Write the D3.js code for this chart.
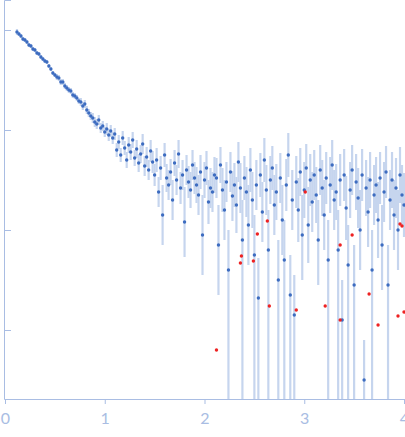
<!DOCTYPE html>
<html><head><meta charset="utf-8">
<script src="https://cdn.jsdelivr.net/npm/d3@7"></script>
<style>body{margin:0;background:#fff}</style></head>
<body><svg id="c"></svg>
<script>
// q values (1/nm), step 0.02 from 0.12
const qStart = 0.12, qStep = 0.02;
// log10 intensity
const logI = [
 -0.02,-0.04,-0.06,-0.09,-0.10,-0.12,-0.15,-0.16,-0.19,-0.20,
 -0.23,-0.24,-0.27,-0.29,-0.31,-0.32,-0.36,-0.39,-0.43,-0.45,
 -0.47,-0.48,-0.52,-0.52,-0.56,-0.58,-0.60,-0.61,-0.65,-0.66,
 -0.68,-0.71,-0.72,-0.76,-0.74,-0.80,-0.83,-0.86,-0.88,-0.92,
 -0.94,-0.90,-0.98,-0.96,-1.02,-0.99,-1.05,-1.01,-1.08,-1.04,
 -1.20,-1.12,-1.25,-1.08,-1.18,-1.30,-1.15,-1.22,-1.10,-1.28,
 -1.19,-1.33,-1.24,-1.14,-1.36,-1.27,-1.40,-1.21,-1.32,-1.45,
 -1.30,-1.62,-1.38,-1.85,-1.25,-1.48,-1.55,-1.42,-1.70,-1.33,
 -1.50,-1.24,-1.58,-1.45,-1.92,-1.40,-1.52,-1.60,-1.35,-1.48,
 -1.55,-1.65,-1.42,-2.05,-1.50,-1.38,-1.72,-1.58,-1.62,-1.45,
 -1.48,-2.15,-1.35,-1.60,-1.80,-1.52,-2.40,-1.42,-1.66,-1.55,
 -1.75,-1.32,-1.58,-2.10,-1.48,-1.62,-1.95,-1.40,-1.70,-2.25,
 -1.55,-2.68,-1.45,-1.82,-1.30,-1.60,-2.20,-1.50,-1.38,-1.75,
 -1.62,-2.50,-1.48,-1.90,-2.30,-1.55,-1.25,-2.65,-1.70,-2.85,
 -1.52,-1.80,-1.42,-2.05,-1.60,-1.38,-1.95,-1.50,-1.72,-1.45,
 -1.65,-2.10,-1.40,-1.58,-1.85,-1.48,-2.30,-1.55,-1.35,-1.70,
 -1.62,-2.20,-1.50,-2.90,-1.45,-1.78,-2.35,-1.60,-1.40,-2.55,
 -1.52,-1.68,-2.00,-1.45,-3.50,-1.58,-1.82,-1.50,-2.40,-1.65,
 -1.55,-1.90,-1.48,-2.15,-1.62,-1.42,-2.55,-1.70,-1.50,-1.85,
 -1.58,-2.00,-1.45,-1.65,-1.75
];
// error half-width in log10 units (9 = reaches the bottom)
const errLog = [
 .03,.02,.02,.02,.02,.02,.02,.02,.02,.02,
 .02,.02,.02,.02,.02,.02,.02,.02,.02,.02,
 .03,.03,.03,.03,.03,.03,.03,.03,.03,.03,
 .03,.03,.04,.04,.04,.04,.04,.04,.05,.05,
 .05,.05,.05,.05,.05,.06,.06,.06,.06,.06,
 .07,.07,.07,.07,.07,.08,.08,.08,.08,.08,
 .09,.09,.09,.10,.10,.10,.10,.11,.11,.11,
 .12,.15,.12,.30,.12,.14,.15,.13,.20,.13,
 .15,.14,.16,.15,.35,.15,.16,.18,.15,.16,
 .18,.20,.17,.40,.18,.17,.22,.20,.20,.18,
 .20,.50,.18,.22,.30,.20,9,.20,.25,.22,
 .28,.20,.25,9,.22,.25,.40,.22,.28,9,
 .25,9,.22,.30,.22,.25,9,.24,.22,.30,
 .28,9,.25,.35,9,.26,.22,9,.30,9,
 .26,.32,.24,.45,.28,.24,.38,.26,.30,.25,
 .28,.45,.25,.28,.35,.26,9,.28,.25,.30,
 .28,9,.26,9,.26,.32,9,.28,.25,9,
 .28,.30,.40,.26,9,.28,.35,.28,9,.30,
 .28,.38,.26,.45,.30,.26,9,.30,.28,.35,
 .30,.40,.28,.30,.32
];
// rejected points (red)
const redQ = [2.12,2.36,2.37,2.49,2.53,2.63,2.65,2.92,3.01,3.21,3.36,3.36,3.48,3.65,3.74,3.94,3.96,3.98,4.0];
const redLogI = [-3.2,-2.33,-2.26,-2.31,-2.04,-1.91,-2.76,-2.8,-1.62,-2.76,-2.15,-2.9,-2.05,-2.64,-2.95,-2.86,-1.94,-1.96,-2.82];
const xTicks = [0,1,2,3,4];
const yTicks = [0,-1,-2,-3];

const W = 405, H = 437;
const svg = d3.select('#c').attr('width', W).attr('height', H);
const x = d3.scaleLinear().domain([0,4]).range([5,404]);
const y = d3.scaleLinear().domain([-3.69,0.3]).range([399,0]);
const axisCol = '#a9bde3';

const pts = logI.map((v,i) => ({q: qStart + i*qStep, v, e: errLog[i]}));

const plot = svg.append('g');
plot.selectAll('line.err').data(pts).enter().append('line')
  .attr('x1', d => x(d.q)).attr('x2', d => x(d.q))
  .attr('y1', d => y(Math.min(0.3, d.v + Math.min(d.e, 0.4))))
  .attr('y2', d => y(Math.max(-3.69, d.v - d.e)))
  .attr('stroke', '#c6d5ee').attr('stroke-width', 2.2);
plot.selectAll('circle.b').data(pts).enter().append('circle')
  .attr('cx', d => x(d.q)).attr('cy', d => y(d.v)).attr('r', 1.7)
  .attr('fill', '#3d6cc0');
plot.selectAll('circle.r').data(redQ).enter().append('circle')
  .attr('cx', d => x(d)).attr('cy', (d,i) => y(redLogI[i])).attr('r', 1.7)
  .attr('fill', '#ee2222');

const xg = svg.append('g').attr('transform', 'translate(0,399)')
  .call(d3.axisBottom(x).tickValues(xTicks).tickFormat(d3.format('d')).tickSizeOuter(0).tickSize(5));
xg.select('.domain').attr('stroke', axisCol);
xg.selectAll('line').attr('stroke', axisCol);
xg.selectAll('text').attr('fill', axisCol).style('font-family', 'Lato, sans-serif').style('font-size', '16px').attr('dy', '1.05em');

const yg = svg.append('g').attr('transform', 'translate(4,0)')
  .call(d3.axisRight(y).tickValues(yTicks).tickFormat('').tickSizeOuter(0).tickSize(7));
yg.select('.domain').attr('stroke', axisCol);
yg.selectAll('line').attr('stroke', axisCol);
</script></body></html>
